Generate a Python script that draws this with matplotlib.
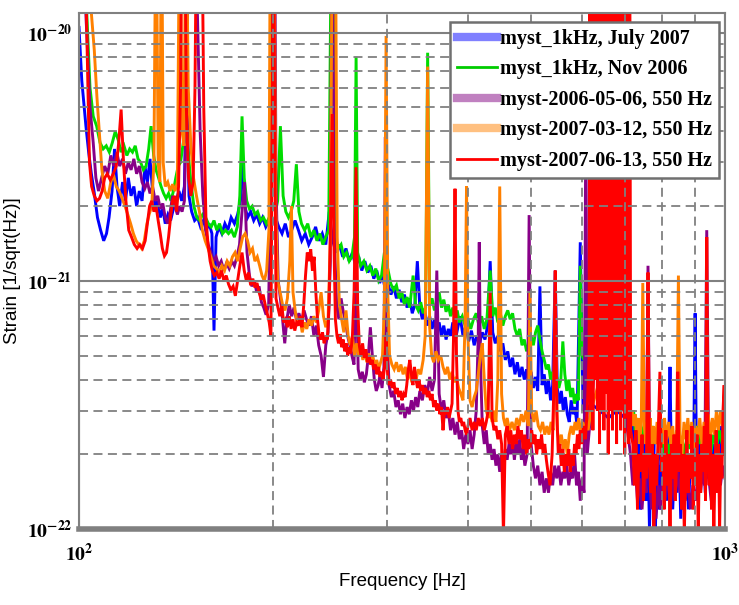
import numpy as np
import matplotlib
matplotlib.use("Agg")
import matplotlib.pyplot as plt
from matplotlib.lines import Line2D
from matplotlib.ticker import LogLocator, NullFormatter, FixedLocator

plt.rcParams['mathtext.fontset'] = 'stix'

# strain spectra: (frequency [Hz], amplitude [1e-21 / sqrt(Hz)])
july07 = [(100, 10.5), (101, 6.4), (102.5, 4.2), (103.5, 3.3), (104.5, 2.7), (105.5, 2.3), (106.8, 1.8), (108, 1.6),
          (109.2, 1.45), (110.3, 1.55), (111.3, 1.8), (112.5, 2.3), (113.5, 3.4), (114.5, 2.4), (115.6, 2.0), (116.8, 2.5),
          (118, 2.1), (119.2, 2.6), (120.4, 2.2), (121.6, 2.4), (122.8, 2.0), (124, 2.3), (125.2, 2.1), (126.5, 2.9),
          (127.6, 2.5), (128.8, 3.1), (130, 2.3), (131.2, 2.0), (132.4, 2.1), (133.6, 1.8), (134.8, 1.95), (136, 1.7),
          (137.3, 1.85), (138.6, 1.75), (140, 1.95), (141.4, 2.1), (142.8, 2.3), (144.2, 2.1), (145.6, 2.4), (146.8, 7.5),
          (148, 2.2), (149.4, 1.9), (151, 1.75), (152.6, 1.8), (154.2, 1.65), (155.8, 1.75), (157.4, 1.6), (159, 1.7),
          (160.6, 1.55), (161.8, 0.63), (163, 1.5), (164.6, 1.65), (166.4, 1.55), (168.2, 1.7), (170, 1.6), (172, 1.8),
          (174, 1.7), (176, 1.85), (177.8, 2.1), (179.2, 3.1), (180.6, 2.0), (182.4, 1.8), (184.4, 1.9), (186.4, 1.75),
          (188.4, 1.85), (190.4, 1.7), (192.4, 1.8), (194.6, 1.65), (196.8, 1.75), (199, 1.7), (201.4, 1.8), (203.8, 1.65),
          (206.2, 1.55), (208.6, 1.7), (211, 1.5), (213.4, 1.6), (216, 1.75), (218.6, 1.6), (221.2, 1.45), (224, 1.55),
          (226.8, 1.4), (229.6, 1.5), (232.4, 1.65), (235.2, 1.45), (238, 1.55), (241, 1.4), (244, 1.9), (247, 1.45),
          (250, 1.3), (253, 1.4), (256, 1.25), (259, 1.35), (262, 1.2), (265, 1.3), (268, 1.15), (271, 1.25), (274, 1.1),
          (277, 1.2), (280, 1.08), (283, 1.15), (286, 1.02), (289, 1.1), (292, 0.98), (295, 1.05), (298, 0.92), (301, 0.97),
          (304, 0.88), (307, 0.95), (310, 0.85), (313, 0.92), (316, 0.82), (319, 0.88), (322, 0.78), (325, 0.85),
          (328, 0.74), (331, 0.8), (334, 1.2), (337, 0.78), (340, 0.7), (343, 0.76), (346, 0.66), (349, 0.72), (352, 0.64),
          (355, 0.7), (358, 0.62), (361, 0.68), (364, 0.6), (367, 0.66), (370, 0.58), (373, 0.64), (376, 0.6), (379, 0.68),
          (382, 0.57), (385, 0.63), (389, 0.72), (393, 0.6), (397, 0.66), (401, 0.57), (405, 0.63), (409, 0.55), (413, 0.6),
          (417, 0.56), (421, 0.62), (425, 0.58), (429, 0.66), (433, 1.2), (437, 0.62), (441, 0.56), (445, 0.6), (449, 0.52),
          (453, 0.56), (457, 0.48), (461, 0.52), (465, 0.45), (469, 0.49), (473, 0.42), (477, 0.47), (481, 0.41),
          (485, 0.45), (489, 0.4), (493, 0.44), (497, 0.38), (501, 0.43), (505, 0.37), (509, 0.41), (513, 0.36),
          (517, 0.95), (521, 0.38), (525, 0.42), (529, 0.35), (533, 0.4), (537, 0.33), (541, 0.38), (546, 1.1),
          (550, 0.37), (554, 0.32), (558, 0.36), (562, 0.3), (566, 0.34), (570, 0.29), (574, 0.27), (578, 0.33),
          (582, 0.29), (586, 0.31), (590, 0.26), (597, 1.43), (603, 0.3), (608, 0.35), (613, 0.3), (620, 0.32), (640, 0.3),
          (660, 0.28), (680, 0.3), (700, 0.28), (712, 0.3), (716, 0.24), (720, 0.3), (724, 0.2), (728, 0.26), (732, 0.15),
          (736, 0.22), (740, 0.12), (744, 0.2), (748, 0.16), (752, 0.24), (756, 0.13), (760, 0.2), (764, 0.1), (768, 0.18),
          (772, 0.14), (776, 0.22), (780, 0.095), (784, 0.17), (788, 0.2), (792, 0.12), (796, 0.18), (800, 0.15),
          (806, 0.22), (812, 0.13), (818, 0.2), (822, 0.45), (826, 0.18), (830, 0.12), (836, 0.2), (842, 0.14), (848, 0.22),
          (854, 0.11), (860, 0.19), (866, 0.15), (872, 0.21), (878, 0.12), (884, 0.19), (890, 0.16), (895, 0.25),
          (899, 0.74), (903, 0.2), (908, 0.15), (914, 0.23), (920, 0.17), (926, 0.22), (932, 0.14), (938, 0.2), (944, 0.16),
          (950, 0.24), (956, 0.18), (962, 0.22), (968, 0.15), (974, 0.24), (980, 0.18), (986, 0.26), (992, 0.2), (1000, 0.25)]

nov06 = [(100, 40), (101.5, 25), (102.8, 12), (104, 6.0), (105.2, 4.6), (106.5, 4.2), (107.8, 3.6), (109, 3.4),
         (110.2, 3.5), (111.4, 3.3), (112.6, 3.6), (113.8, 4.0), (115, 3.7), (116.2, 3.3), (117.4, 3.5), (118.6, 3.2),
         (119.8, 3.4), (121, 3.3), (122.2, 3.5), (123.4, 3.1), (124.6, 3.0), (125.8, 2.8), (127, 2.9), (128.2, 3.4),
         (129.3, 4.2), (130.5, 3.2), (131.6, 2.8), (132.8, 2.6), (134, 2.4), (135.2, 2.25), (136.4, 2.15), (137.6, 2.25),
         (138.8, 2.1), (140, 2.3), (141.2, 2.6), (142.4, 2.9), (143.6, 3.0), (145, 3.6), (146.2, 5.0), (147.4, 3.4),
         (149, 2.5), (150.6, 2.0), (152.2, 1.8), (153.8, 1.75), (155.4, 1.85), (157, 1.8), (158.6, 1.7), (160.2, 1.65),
         (161.8, 1.75), (163.4, 1.6), (165, 1.7), (166.8, 1.55), (168.6, 1.6), (170.4, 1.55), (172.2, 1.6), (174, 1.5),
         (175.8, 1.65), (177.4, 2.2), (178.8, 4.6), (180.2, 2.6), (181.8, 2.1), (183.6, 1.95), (185.4, 2.0), (187.2, 1.85),
         (189, 1.9), (191, 1.75), (193, 1.8), (195, 1.7), (197, 1.8), (199.8, 2.0), (201.5, 1.9), (203, 2.1), (205, 4.2),
         (207, 2.2), (209, 1.9), (211, 1.8), (213, 1.9), (215, 2.1), (217, 2.95), (219, 1.9), (221, 1.7), (223.5, 1.6),
         (226, 1.7), (228.5, 1.5), (231, 1.6), (233.5, 1.45), (236, 1.55), (238.5, 1.4), (241, 1.5), (243.5, 1.6),
         (246.5, 60), (249.5, 1.5), (252, 1.35), (254.5, 1.4), (257, 1.25), (259.5, 1.3), (262, 1.2), (264.5, 1.25),
         (267, 1.5), (268.5, 8.0), (270, 1.3), (273, 1.15), (276, 1.2), (279, 1.1), (282, 1.15), (285, 1.05), (288, 1.12),
         (291, 1.0), (294, 1.05), (297, 1.3), (301, 1.1), (304, 0.97), (307, 0.92), (310, 0.96), (313, 0.85), (316, 0.9),
         (319, 0.8), (322, 0.86), (325, 0.78), (329, 1.05), (332, 0.8), (335, 0.76), (338, 0.82), (341, 0.74), (344, 0.78),
         (346.5, 8.3), (349, 0.8), (352, 0.85), (355, 0.76), (358, 0.82), (361, 0.9), (364, 0.78), (367, 0.84), (370, 0.75),
         (373, 0.8), (376, 0.72), (379, 0.78), (382, 0.7), (385, 0.76), (388, 0.68), (392, 0.72), (396, 0.66), (400, 0.7),
         (404, 0.64), (408, 0.7), (412, 0.74), (416, 0.66), (420, 0.72), (424, 0.64), (428, 0.7), (433, 1.1), (437, 0.72),
         (441, 0.78), (445, 0.68), (449, 0.74), (453, 0.66), (457, 0.72), (461, 0.76), (465, 0.7), (469, 0.74), (473, 0.64),
         (477, 0.6), (481, 0.64), (485, 0.55), (489, 0.58), (493, 0.52), (497, 0.56), (501, 0.6), (505, 0.55), (509, 0.62),
         (513, 0.66), (517, 0.58), (521, 0.52), (525, 0.48), (529, 0.44), (533, 0.46), (537, 0.4), (541, 0.43),
         (545, 0.38), (549, 0.41), (553, 0.37), (557, 0.4), (561, 0.57), (565, 0.42), (569, 0.36), (573, 0.4), (577, 0.34),
         (581, 0.37), (585, 0.32), (589, 0.35), (593, 0.33), (597, 1.15), (601, 0.5), (605, 0.48), (610, 0.52),
         (615, 0.42), (620, 0.45), (640, 0.4), (660, 0.38), (680, 0.4), (700, 0.35), (714, 0.3), (718, 0.27), (722, 0.3),
         (726, 0.25), (730, 0.28), (735, 0.24), (740, 0.27), (745, 0.23), (750, 0.26), (755, 0.22), (760, 0.27),
         (766, 0.23), (772, 0.26), (778, 0.22), (784, 0.25), (790, 0.21), (796, 0.24), (802, 0.2), (810, 0.23), (818, 0.2),
         (826, 0.24), (834, 0.21), (842, 0.25), (850, 0.2), (858, 0.23), (866, 0.2), (874, 0.24), (882, 0.21), (890, 0.25),
         (898, 0.22), (906, 0.26), (914, 0.22), (922, 0.25), (930, 0.21), (940, 0.24), (950, 0.2), (960, 0.24), (970, 0.21),
         (980, 0.25), (990, 0.22), (1000, 0.24)]

may06 = [(100, 40), (101.5, 20), (102.8, 10), (104, 5.0), (105.2, 3.6), (106.2, 2.6), (107.2, 2.3), (108.4, 2.6),
         (109.6, 2.9), (110.8, 2.7), (112, 3.2), (113.2, 2.9), (114.4, 3.3), (115.6, 2.9), (116.8, 3.1), (118, 2.7),
         (119.2, 3.0), (120.4, 2.8), (121.6, 3.1), (122.8, 2.7), (124, 2.9), (125.2, 2.5), (126.4, 2.35), (127.6, 2.5),
         (128.8, 2.25), (130, 2.4), (131.2, 2.1), (132.4, 2.2), (133.6, 1.95), (134.8, 2.05), (136, 1.8), (137.2, 1.7),
         (138.4, 1.9), (139.6, 2.2), (140.8, 2.0), (142, 1.85), (143.2, 2.0), (144.4, 1.9), (145.6, 2.1), (146.8, 6.0),
         (148, 40), (149.5, 60), (151, 40), (152.5, 12), (154, 4.0), (155.5, 2.2), (157, 1.6), (158.5, 1.4), (160, 1.3),
         (161.5, 1.2), (163, 1.25), (164.5, 1.15), (166, 1.2), (167.6, 1.1), (169.2, 1.18), (170.8, 1.12), (172.4, 1.2),
         (174, 1.15), (175.6, 1.25), (177.2, 1.4), (178.8, 1.9), (180.4, 2.5), (182, 1.3), (183.6, 1.05), (185.2, 0.95),
         (186.8, 1.0), (188.4, 0.9), (190, 0.95), (191.6, 0.82), (193.2, 0.78), (194.8, 0.73), (196.6, 0.8), (198.2, 3.0),
         (199.4, 60), (200.6, 60), (201.8, 2.5), (203.4, 1.0), (205, 0.85), (206.6, 0.7), (208.2, 0.56), (209.8, 0.7),
         (211.6, 0.8), (213.4, 0.72), (215.2, 0.78), (217, 0.7), (219, 0.74), (221, 0.68), (223, 0.76), (225, 0.7),
         (227, 0.66), (229, 0.72), (231, 0.6), (233, 0.66), (235, 0.55), (237, 0.5), (239, 0.41), (241, 0.55), (243, 0.62),
         (245, 1.2), (246.5, 60), (248.5, 1.5), (250.5, 0.8), (252.5, 0.7), (254.5, 0.85), (256.5, 0.75), (258.5, 0.69),
         (260.5, 0.6), (262.5, 0.55), (264.5, 0.5), (266.5, 0.46), (268.5, 1.2), (270.5, 0.44), (272.5, 0.4),
         (274.5, 0.43), (276.5, 0.39), (278.5, 0.42), (280.5, 0.5), (282.5, 0.65), (284.5, 0.5), (286.5, 0.4),
         (288.5, 0.36), (290.5, 0.38), (292.5, 0.42), (294.5, 0.37), (296.5, 0.45), (298, 3.8), (299.8, 0.6), (302, 0.38),
         (304.5, 0.34), (307, 0.36), (309.5, 0.31), (312, 0.33), (314.5, 0.29), (317, 0.32), (319.5, 0.28), (322, 0.31),
         (324.5, 0.29), (327, 0.33), (329.5, 0.3), (332, 0.34), (334.5, 0.31), (337, 0.36), (340, 0.33), (343, 0.38),
         (346, 0.35), (349, 0.41), (352, 0.36), (355, 0.4), (358, 1.1), (361, 0.35), (364, 0.3), (367, 0.33), (370, 0.28),
         (373, 0.3), (376, 0.25), (379, 0.28), (382, 0.24), (385, 0.27), (388, 0.23), (391, 0.25), (394, 0.21),
         (397, 0.24), (400, 0.22), (403, 0.25), (406, 0.21), (409, 0.24), (412, 0.3), (415, 0.6), (416.5, 1.43),
         (418, 0.5), (421, 0.26), (424, 0.22), (427, 0.25), (430, 0.2), (433, 0.22), (436, 0.19), (439, 0.21), (442, 0.18),
         (445, 0.2), (448, 0.17), (451, 0.2), (454, 0.18), (457, 0.21), (460, 0.19), (463, 0.22), (466, 0.2), (469, 0.23),
         (472, 0.19), (475, 0.22), (478, 0.2), (481, 0.23), (484, 0.19), (487, 0.21), (490, 0.18), (494, 0.2),
         (497.5, 1.84), (501, 0.22), (505, 0.18), (509, 0.16), (513, 0.18), (517, 0.15), (521, 0.17), (525, 0.14),
         (529, 0.16), (533, 0.14), (537, 0.17), (541, 0.15), (545, 0.18), (549, 0.16), (553, 0.18), (557, 0.15),
         (561, 0.17), (565, 0.16), (569, 0.18), (573, 0.15), (577, 0.17), (581, 0.16), (585, 0.2), (589, 0.15),
         (593, 0.17), (597, 0.13), (601, 0.16), (605, 0.14), (609, 5), (612, 0.2), (620, 0.3), (640, 0.8), (660, 3),
         (680, 0.5), (700, 0.3), (714, 0.2), (720, 0.15), (726, 0.18), (732, 0.13), (738, 0.16), (744, 0.12), (750, 0.17),
         (755, 0.14), (760, 1.15), (765, 0.15), (770, 0.12), (776, 0.16), (782, 0.11), (788, 0.15), (794, 0.12),
         (800, 0.16), (808, 0.13), (816, 0.17), (824, 0.12), (830, 0.18), (836, 0.13), (844, 0.17), (852, 0.14),
         (860, 0.18), (868, 0.13), (876, 0.16), (884, 0.12), (892, 0.15), (900, 0.13), (908, 0.16), (916, 0.14),
         (924, 0.17), (930, 0.15), (937, 1.6), (944, 0.16), (952, 0.13), (960, 0.16), (968, 0.14), (976, 0.17),
         (984, 0.15), (992, 0.18), (1000, 0.16)]

mar07 = [(100, 60), (101.5, 50), (103, 30), (104.5, 12), (105.6, 8.5), (106.6, 5.5), (107.5, 4.0), (108.5, 2.8),
         (109.6, 2.3), (110.8, 2.15), (112, 2.5), (113, 2.7), (114.2, 2.4), (115.4, 2.3), (116.6, 2.15), (117.8, 2.0),
         (119, 1.85), (120.2, 1.7), (121.4, 1.55), (122.6, 1.45), (123.8, 1.4), (125, 1.35), (126.2, 1.45), (127.4, 1.7),
         (128.4, 1.85), (129.6, 2.0), (130.6, 3), (131.6, 40), (132.6, 3), (133.4, 2.5), (134.2, 40), (135, 3.0),
         (136, 2.4), (137.2, 2.5), (138.4, 2.3), (139.6, 2.45), (140.8, 2.3), (142, 2.5), (143.2, 40), (144.4, 4),
         (145.4, 3.5), (146.4, 40), (147.6, 6), (149, 3.5), (150.4, 2.6), (152, 2.2), (153.6, 1.9), (155.2, 1.6),
         (156.8, 1.45), (158.4, 1.35), (160, 1.25), (161.6, 1.15), (163.2, 1.12), (164.8, 1.08), (166.4, 1.15), (168, 1.1),
         (169.6, 1.2), (171.2, 1.15), (172.8, 1.25), (174.4, 1.3), (176, 1.2), (177.6, 1.35), (179.2, 1.5), (180.8, 1.55),
         (182.4, 1.45), (184, 1.3), (185.6, 1.35), (187.2, 1.2), (188.8, 1.25), (190.4, 1.15), (192, 1.05), (193.6, 1.0),
         (195.2, 1.1), (196.8, 1.6), (198, 60), (200, 60), (201.6, 2), (203, 1.0), (204.8, 0.9), (206.6, 0.8),
         (208.4, 0.76), (210.2, 0.85), (212, 1.2), (213.2, 2.0), (214.4, 0.9), (216.2, 0.75), (218, 0.66), (219.8, 0.7),
         (221.6, 0.62), (223.4, 0.68), (225.2, 0.64), (227, 0.7), (229, 0.66), (231, 0.72), (233, 0.68), (235, 0.76),
         (237, 0.9), (239, 0.72), (241, 0.65), (243, 0.7), (245, 1.5), (247, 60), (249, 60), (251, 1.5), (253, 0.8),
         (255, 0.7), (257, 0.62), (259, 0.76), (261, 0.6), (263, 0.55), (265, 0.6), (267, 0.5), (269, 0.56), (271, 0.5),
         (273, 0.54), (275, 0.48), (277, 0.52), (279, 0.47), (281, 0.51), (283, 0.46), (285, 0.5), (287, 0.45),
         (289, 0.48), (291, 0.44), (293, 0.47), (295, 0.5), (297, 0.8), (298.8, 9.7), (300.6, 0.9), (302.5, 0.5),
         (305, 0.46), (307.5, 0.44), (310, 0.47), (312.5, 0.43), (315, 0.46), (317.5, 0.42), (320, 0.45), (322.5, 0.4),
         (325, 0.43), (327.5, 0.39), (330, 0.42), (332.5, 0.4), (335, 0.44), (338, 0.42), (341, 0.48), (343.5, 0.6),
         (346.5, 7.3), (349, 0.65), (351.5, 0.5), (354, 0.47), (357, 0.52), (360, 0.48), (363, 0.5), (366, 0.45),
         (369, 0.42), (372, 0.45), (375, 0.4), (378, 0.43), (381, 0.39), (384, 0.41), (387, 0.37), (390, 0.35),
         (393, 0.33), (396, 0.7), (398, 2.4), (400, 0.6), (403, 0.33), (406, 0.31), (409, 0.34), (412, 0.36), (415, 0.42),
         (418, 0.5), (421, 0.56), (424, 0.4), (427, 0.3), (430, 0.28), (433, 0.3), (436, 0.27), (439, 0.3), (442, 0.27),
         (445, 0.4), (448, 2.4), (451, 0.35), (454, 0.28), (457, 0.26), (460, 0.28), (464, 0.25), (468, 0.27),
         (472, 0.25), (476, 0.28), (480, 0.26), (484, 0.29), (488, 0.27), (492, 0.3), (496, 0.26), (499, 0.9), (502, 0.3),
         (506, 0.27), (510, 0.3), (514, 0.26), (518, 0.25), (522, 0.27), (526, 0.24), (530, 0.26), (534, 0.24),
         (538, 0.27), (542, 0.25), (546, 0.92), (550, 0.25), (554, 0.22), (558, 0.24), (562, 0.21), (566, 0.23),
         (570, 0.2), (574, 0.24), (578, 0.26), (582, 0.24), (586, 0.27), (590, 0.25), (594, 0.28), (598, 0.24),
         (602, 0.27), (606, 0.24), (610, 0.27), (614, 0.25), (620, 0.3), (640, 0.4), (660, 0.35), (680, 0.4), (700, 0.35),
         (714, 0.28), (718, 0.3), (722, 0.26), (726, 0.29), (730, 0.24), (734, 0.28), (738, 0.22), (742, 0.27),
         (746, 0.98), (750, 0.26), (754, 0.22), (758, 0.27), (762, 0.23), (766, 0.28), (770, 0.21), (775, 0.26),
         (780, 0.22), (785, 0.27), (790, 0.2), (795, 0.25), (800, 0.22), (806, 0.28), (812, 0.23), (818, 0.27),
         (824, 0.22), (830, 0.26), (836, 0.2), (842, 0.25), (847, 1.05), (852, 0.24), (858, 0.2), (864, 0.27), (870, 0.23),
         (876, 0.28), (882, 0.22), (888, 0.27), (894, 0.21), (900, 0.26), (907, 0.23), (914, 0.28), (921, 0.22),
         (928, 0.27), (935, 0.24), (942, 0.29), (949, 0.23), (956, 0.28), (963, 0.24), (970, 0.3), (977, 0.25), (984, 0.3),
         (991, 0.26), (996, 0.32), (1000, 0.28)]

jun07 = [(100, 60), (101, 50), (102, 30), (103, 8), (103.8, 3.0), (104.6, 2.4), (105.6, 2.2), (106.6, 2.1),
         (107.6, 2.15), (108.6, 2.3), (109.6, 2.6), (110.6, 2.7), (111.8, 2.55), (113, 2.7), (114.2, 2.9), (115.2, 3.6),
         (116.2, 4.9), (117.2, 3.0), (118.2, 2.1), (119.4, 1.6), (120.6, 1.5), (121.8, 1.4), (123, 1.35), (124.2, 1.4),
         (125.4, 1.35), (126.6, 1.45), (127.6, 1.7), (128.6, 2.0), (129.6, 2.1), (130.6, 1.9), (131.6, 2.0), (132.6, 1.75),
         (133.6, 1.55), (134.6, 1.35), (135.6, 1.26), (136.6, 1.3), (137.6, 1.5), (138.6, 1.8), (139.6, 2.1), (140.6, 2.2),
         (141.6, 1.9), (142.6, 2.4), (143.6, 6), (144.6, 60), (145.6, 60), (146.6, 5), (147.8, 2.6), (149, 2.2),
         (150.2, 2.5), (151.2, 6), (152.4, 60), (153.6, 60), (154.8, 40), (156, 5), (157.2, 1.8), (158.4, 1.4),
         (159.6, 1.2), (160.8, 1.1), (162, 1.05), (163.4, 1.08), (164.8, 1.02), (166.2, 1.1), (167.6, 1.0), (169, 1.05),
         (170.4, 0.97), (171.8, 0.92), (173.2, 0.95), (174.6, 0.87), (176, 1.0), (177.4, 1.15), (178.8, 1.3), (180.2, 1.1),
         (181.6, 1.0), (183, 1.08), (184.4, 0.96), (185.8, 1.02), (187.2, 0.94), (188.6, 0.98), (190, 0.9), (191.4, 0.84),
         (192.8, 0.88), (194.2, 0.8), (195.6, 0.74), (197, 0.68), (198.2, 0.6), (199.2, 5), (200, 60), (200.8, 5),
         (201.8, 0.85), (203.2, 0.78), (204.6, 0.72), (206, 0.8), (207.4, 0.68), (208.8, 0.7), (210.2, 0.65),
         (211.6, 0.72), (213, 0.64), (214.4, 0.7), (215.8, 0.63), (217.2, 0.68), (218.6, 0.66), (220, 0.72), (221.4, 0.65),
         (222.8, 0.8), (224.2, 1.05), (225.6, 1.3), (227, 1.2), (228.4, 1.34), (229.8, 1.1), (231.2, 1.25), (232.6, 0.9),
         (234, 0.7), (235.4, 0.6), (236.8, 0.58), (238.2, 0.62), (239.6, 0.56), (241, 0.6), (242.4, 0.58), (243.8, 0.8),
         (245.2, 1.8), (246.6, 4.7), (248, 1.5), (249.4, 0.7), (250.8, 0.6), (252.2, 0.56), (253.6, 0.61), (255, 0.54),
         (256.4, 0.58), (257.8, 0.52), (259.2, 0.56), (260.6, 0.5), (262, 0.54), (263.4, 0.51), (265, 0.6), (266.6, 0.9),
         (268.4, 2.87), (270, 0.8), (271.6, 0.55), (273.2, 0.5), (274.8, 0.56), (276.4, 0.49), (278, 0.53), (279.6, 0.47),
         (281.2, 0.5), (282.8, 0.46), (284.4, 0.48), (286, 0.44), (287.6, 0.46), (289.2, 0.42), (290.8, 0.45),
         (292.4, 0.41), (294, 0.43), (295.6, 0.4), (297.2, 0.45), (298.8, 0.6), (300.4, 0.42), (302, 0.38), (303.6, 0.4),
         (305.4, 0.37), (307.2, 0.39), (309, 0.35), (310.8, 0.37), (312.6, 0.34), (314.4, 0.36), (316.2, 0.33),
         (318, 0.35), (319.8, 0.34), (321.6, 0.38), (323.4, 0.44), (325.2, 0.48), (327, 0.42), (328.8, 0.38),
         (330.6, 0.45), (332.4, 0.4), (334.2, 0.37), (336, 0.4), (338, 0.36), (340, 0.38), (342, 0.35), (344, 0.37),
         (346, 0.34), (348, 0.36), (350, 0.33), (352, 0.35), (354, 0.31), (356, 0.33), (358, 0.3), (360, 0.32),
         (362, 0.29), (364, 0.31), (366, 0.25), (368, 0.3), (370, 0.29), (372, 0.31), (374, 0.28), (376, 0.3), (378, 0.32),
         (380, 0.6), (382, 2.35), (384, 0.5), (386, 0.3), (388, 0.27), (390, 0.28), (392, 0.26), (394, 0.27), (396, 0.25),
         (398, 0.24), (400, 0.26), (403, 0.28), (406, 0.25), (409, 0.27), (412, 0.25), (415, 0.28), (418, 0.26),
         (421, 0.28), (424, 0.25), (427, 0.27), (430, 0.3), (433, 0.9), (436, 0.28), (439, 0.25), (442, 0.26), (445, 0.23),
         (448, 0.25), (451, 0.22), (454, 0.094), (457, 0.24), (460, 0.26), (463, 0.22), (466, 0.25), (469, 0.21),
         (472, 0.24), (475, 0.22), (478, 0.26), (481, 0.23), (484, 0.25), (487, 0.21), (490, 0.24), (493, 0.2), (496, 0.23),
         (499, 0.21), (502, 0.25), (505, 0.22), (508, 0.24), (511, 0.2), (514, 0.23), (517, 0.21), (520, 0.24), (523, 0.2),
         (526, 0.22), (529, 0.19), (532, 0.17), (536, 0.15), (540, 0.2), (543, 0.35), (546, 1.1), (549, 0.3), (552, 0.2),
         (555, 0.22), (558, 0.18), (561, 0.21), (564, 0.17), (567, 0.2), (570, 0.18), (573, 0.21), (576, 0.17), (579, 0.2),
         (582, 0.18), (585, 0.22), (588, 0.2), (591, 0.24), (594, 0.21), (597, 0.25), (600, 0.22), (604, 0.26),
         (608, 0.23), (612, 0.3), (616, 0.5), (618, 30), (620, 0.3), (622, 40), (624.5, 0.25), (627, 40), (629.5, 0.4),
         (632, 40), (634.5, 0.3), (637, 40), (639.5, 0.22), (642, 40), (644.5, 0.3), (647, 40), (649.5, 0.25), (652, 40),
         (654.5, 0.35), (657, 40), (659.5, 0.2), (662, 40), (664.5, 0.3), (667, 40), (669.5, 0.25), (672, 40),
         (674.5, 0.3), (677, 40), (679.5, 0.22), (682, 40), (684.5, 0.3), (687, 40), (689.5, 0.25), (692, 40),
         (694.5, 0.3), (697, 40), (699.5, 0.2), (702, 40), (704.5, 0.28), (707, 40), (709.5, 0.22), (712, 40),
         (714.5, 0.25), (720, 0.22), (724, 0.15), (728, 0.25), (732, 0.12), (736, 0.2), (740, 0.17), (744, 0.24),
         (748, 0.13), (752, 0.2), (756, 0.16), (760, 1.08), (764, 0.18), (768, 0.14), (772, 0.22), (776, 0.095),
         (780, 0.2), (784, 0.15), (788, 0.24), (793, 0.43), (797, 0.17), (801, 0.2), (805, 0.12), (810, 0.25), (814, 0.15),
         (818, 0.2), (822, 0.1), (826, 0.22), (830, 0.16), (834, 0.24), (838, 0.13), (842, 0.2), (845, 0.43), (849, 0.17),
         (853, 0.22), (857, 0.12), (861, 0.2), (865, 0.095), (869, 0.18), (873, 0.25), (877, 0.14), (881, 0.2),
         (885, 0.16), (889, 0.26), (893, 0.12), (897, 0.2), (901, 0.15), (905, 0.24), (909, 0.095), (913, 0.2),
         (917, 0.14), (921, 0.22), (925, 0.17), (929, 0.26), (933, 0.13), (937, 1.5), (941, 0.2), (945, 0.15), (949, 0.24),
         (953, 0.12), (957, 0.2), (961, 0.095), (965, 0.18), (969, 0.25), (973, 0.14), (977, 0.22), (981, 0.1), (985, 0.2),
         (989, 0.16), (993, 0.3), (997, 0.38), (1000, 0.2)]

labels = ['myst_1kHz, July 2007', 'myst_1kHz, Nov 2006', 'myst-2006-05-06, 550 Hz',
          'myst-2007-03-12, 550 Hz', 'myst-2007-06-13, 550 Hz']

datasets = [july07, nov06, may06, mar07, jun07]
line_colors = ['#0000ff', '#00dd00', '#880088', '#ff8000', '#ff0000']
legend_colors = ['#8080ff', '#00cc00', '#c080c0', '#ffc080', '#ff0000']
legend_widths = [6, 2, 6, 6, 2]

fig = plt.figure(figsize=(7.39, 6.05), dpi=100)
ax = fig.add_axes([79 / 739, 76 / 605, 646 / 739, 516 / 605])

for data, color in zip(datasets, line_colors):
    arr = np.array(data)
    ax.plot(arr[:, 0], arr[:, 1] * 1e-21, color=color, lw=2.1, solid_joinstyle='miter')

ax.set_xscale('log')
ax.set_yscale('log')
ax.set_xlim(100, 1000)
ax.set_ylim(1e-22, 1.2e-20)

ax.xaxis.set_major_locator(FixedLocator([100, 1000]))
ax.xaxis.set_minor_locator(FixedLocator([200, 300, 400, 500, 600, 700, 800, 900]))
ax.yaxis.set_major_locator(FixedLocator([1e-22, 1e-21, 1e-20]))
ax.yaxis.set_minor_locator(LogLocator(base=10, subs=np.arange(2, 10)))
ax.xaxis.set_minor_formatter(NullFormatter())
ax.yaxis.set_minor_formatter(NullFormatter())
ax.set_xticklabels([r'$\mathbf{10^{2}}$', r'$\mathbf{10^{3}}$'])
ax.set_yticklabels([r'$\mathbf{10^{-22}}$', r'$\mathbf{10^{-21}}$', r'$\mathbf{10^{-20}}$'])
ax.tick_params(which='both', length=0, labelsize=14)
ax.tick_params(axis='x', pad=10)
ax.tick_params(axis='y', pad=5)

# grid drawn over the curves
ax.set_axisbelow(False)
ax.grid(which='major', color='#808080', lw=1.5, ls='-')
ax.grid(which='minor', color='#808080', lw=1.3, ls=(0, (5, 3)))

for side in ['left', 'right', 'top']:
    ax.spines[side].set_color('#808080')
    ax.spines[side].set_linewidth(1.5)
ax.spines['bottom'].set_color('#808080')
ax.spines['bottom'].set_linewidth(4)

ax.set_xlabel('Frequency [Hz]', fontsize=13.5, family='Liberation Sans', labelpad=6)
ax.set_ylabel('Strain [1/sqrt(Hz)]', fontsize=13.5, family='Liberation Sans', labelpad=4)

handles = [Line2D([], [], color=c, lw=w) for c, w in zip(legend_colors, legend_widths)]
leg = ax.legend(handles, labels, loc='upper right', bbox_to_anchor=(0.991, 0.983), borderaxespad=0,
                prop={'family': 'Liberation Serif', 'weight': 'bold', 'size': 14.5},
                handlelength=2.0, handletextpad=0.15, labelspacing=0.52, borderpad=0.35,
                fancybox=False, framealpha=1)
leg.get_frame().set_edgecolor('#707070')
leg.get_frame().set_linewidth(1.8)
leg.set_zorder(10)

fig.savefig('out.png', dpi=100)
